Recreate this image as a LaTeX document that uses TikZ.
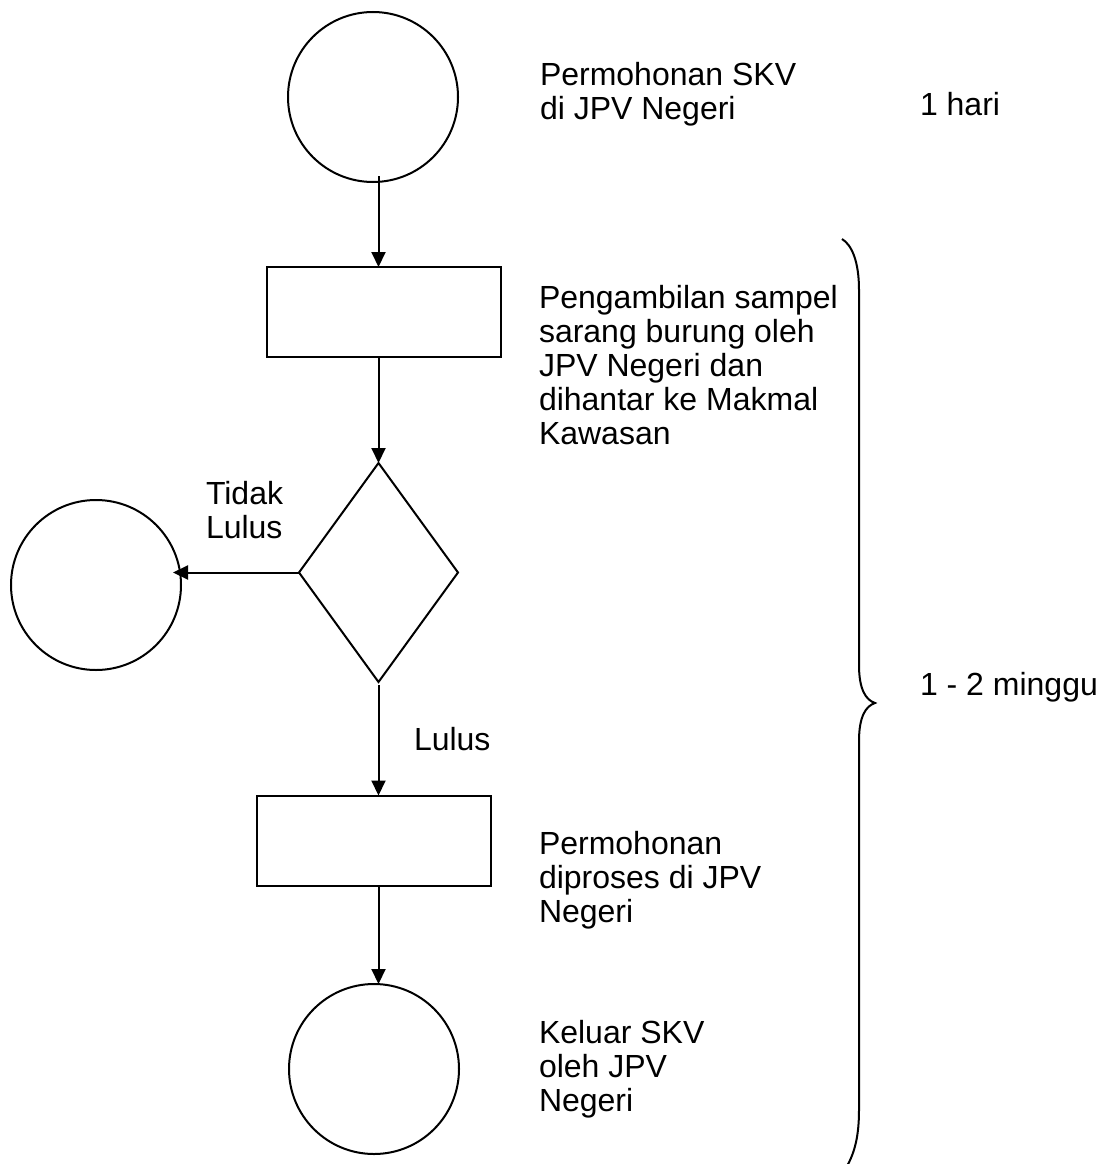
\documentclass[tikz,border=0pt]{standalone}
\usepackage{fontspec}
\setmainfont{Liberation Sans}
\usetikzlibrary{shapes.geometric,arrows.meta,calc}
\begin{document}
\begin{tikzpicture}[x=1pt,y=-1pt,
  line width=2pt,
  every node/.style={inner sep=0pt, outer sep=0pt},
  circ/.style={draw, circle, minimum size=170pt},
  box/.style={draw, rectangle, minimum width=234pt, minimum height=90pt},
  decide/.style={draw, diamond, minimum width=159pt, minimum height=219pt, shape aspect=0.726},
  lbl/.style={anchor=north west, align=left, font=\fontsize{32}{34}\selectfont},
  flow/.style={-{Triangle[length=15pt,width=14pt]}}]
\useasboundingbox (0,0) rectangle (1107,1164);
% shapes
\node[circ] (c1) at (373,97) {};
\node[box] (r1) at (384,312) {};
\node[decide] (d) at (378.5,572.5) {};
\node[circ] (lc) at (96,585) {};
\node[box] (r2) at (374,840.5) {};
\node[circ] (c2) at (374,1069) {};
% labels
\node[lbl] (t1) at (540,62) {Permohonan SKV\\di JPV Negeri};
\node[lbl] (t2) at (539,285) {Pengambilan sampel\\sarang burung oleh\\JPV Negeri dan\\dihantar ke Makmal\\Kawasan};
\node[lbl] (t3) at (206,481) {Tidak\\Lulus};
\node[lbl] (t4) at (414,727) {Lulus};
\node[lbl] (t5) at (539,831) {Permohonan\\diproses di JPV\\Negeri};
\node[lbl] (t6) at (539,1020) {Keluar SKV\\oleh JPV\\Negeri};
\node[lbl] (t7) at (920,92) {1 hari};
\node[lbl] (t8) at (920,672) {1 - 2 minggu};
% connectors
\draw[flow] ($(c1.south -| d.north)+(0,-6)$) -- (r1.north -| d.north);
\draw[flow] (r1.south -| d.north) -- (d.north);
\draw[flow] (d.west) -- ($(d.west -| lc.east)+(-8,0)$);
\draw[flow] ($(d.south)+(0,3)$) -- (r2.north -| d.south);
\draw[flow] (r2.south -| d.south) -- (c2.north -| d.south);
% brace
\draw (842,239) .. controls (852,245) and (859,262) .. (859,290) -- (859,665)
  .. controls (859,690) and (866,700) .. (875,703)
  .. controls (866,706) and (859,716) .. (859,741) -- (859,1110)
  .. controls (859,1135) and (855,1152) .. (847,1166);
\end{tikzpicture}
\end{document}
